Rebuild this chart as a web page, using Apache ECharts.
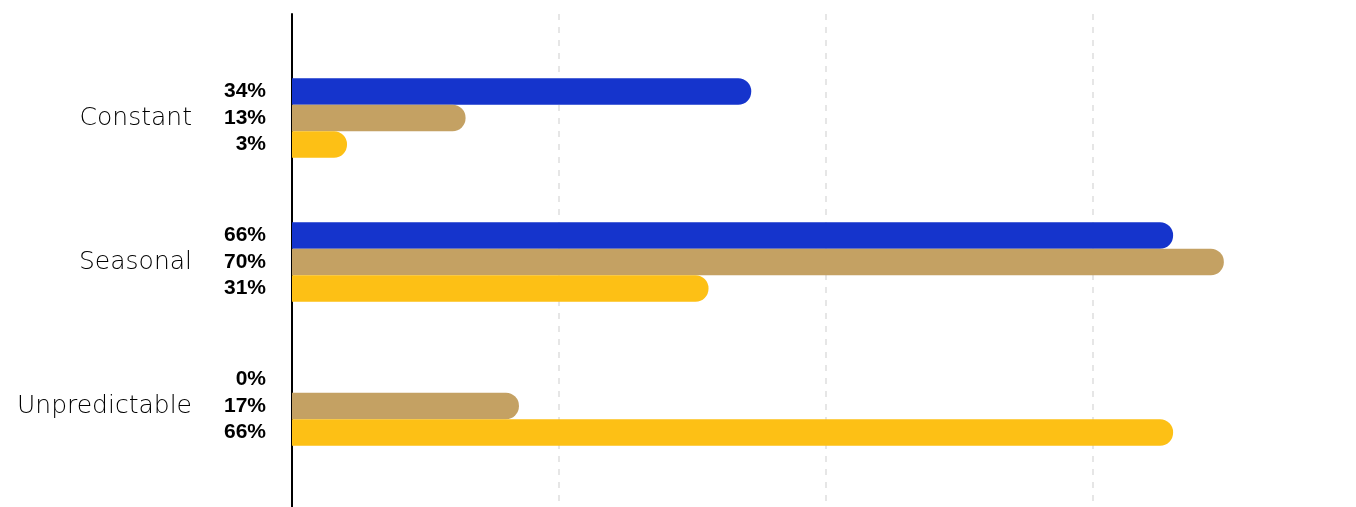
<!DOCTYPE html>
<html>
<head>
<meta charset="utf-8">
<script src="https://cdn.jsdelivr.net/npm/echarts@6/dist/echarts.min.js"></script>
<style>
html,body{margin:0;padding:0;background:#fff;}
#chart{width:1356px;height:507px;}
</style>
</head>
<body>
<div id="chart"></div>
<script>
const categories = ['Constant', 'Seasonal', 'Unpredictable'];
const seriesA = [34.4, 66, 0];
const seriesB = [13, 69.8, 17];
const seriesC = [3, 31.2, 66];
const xTicks = [0, 20, 40, 60];
const xMax = 79.7;

const colors = ['#1534CC', '#C4A163', '#FDC015'];

const chart = echarts.init(document.getElementById('chart'), null, {renderer: 'canvas'});

function barSeries(name, data, color, minLen) {
  return {
    name: name,
    type: 'bar',
    xAxisIndex: 0,
    yAxisIndex: 0,
    data: data,
    barWidth: 26.5,
    barGap: '0%',
    barMinHeight: minLen || 0,
    itemStyle: {color: color, borderRadius: [0, 13, 13, 0]},
    label: {
      show: true,
      position: 'left',
      distance: 26,
      formatter: function (p) { return Math.round(p.value) + '%'; },
      fontFamily: 'Liberation Sans, Arial, sans-serif',
      fontWeight: 'bold',
      fontSize: 21,
      color: '#000'
    },
    silent: true,
    animation: false
  };
}

chart.setOption({
  animation: false,
  grid: [
    {left: 292, right: 0, top: 46, height: 432, containLabel: false},
    {left: 292, right: 0, top: 14, bottom: 0, containLabel: false}
  ],
  xAxis: [
    {gridIndex: 0, type: 'value', min: xTicks[0], max: xMax, show: false},
    {gridIndex: 1, type: 'value', min: xTicks[0], max: xMax, interval: 20,
      axisLine: {show: false}, axisTick: {show: false}, axisLabel: {show: false},
      splitLine: {show: true, showMaxLine: false, lineStyle: {color: '#e6e6e6', width: 2, type: [6, 7]}}}
  ],
  yAxis: [
    {gridIndex: 0, type: 'category', data: categories, inverse: true,
      axisLine: {show: false}, axisTick: {show: false}, splitLine: {show: false},
      axisLabel: {margin: 100, fontFamily: 'DejaVu Sans, sans-serif', fontWeight: 200, fontSize: 25, color: '#000'}},
    {gridIndex: 1, type: 'value', min: 0, max: 1,
      axisLine: {show: true, onZero: false, lineStyle: {color: '#000', width: 2}},
      axisTick: {show: false}, axisLabel: {show: false}, splitLine: {show: false}}
  ],
  series: [
    barSeries('A', seriesA, colors[0]),
    barSeries('B', seriesB, colors[1]),
    barSeries('C', seriesC, colors[2], 55)
  ]
});
</script>
</body>
</html>
